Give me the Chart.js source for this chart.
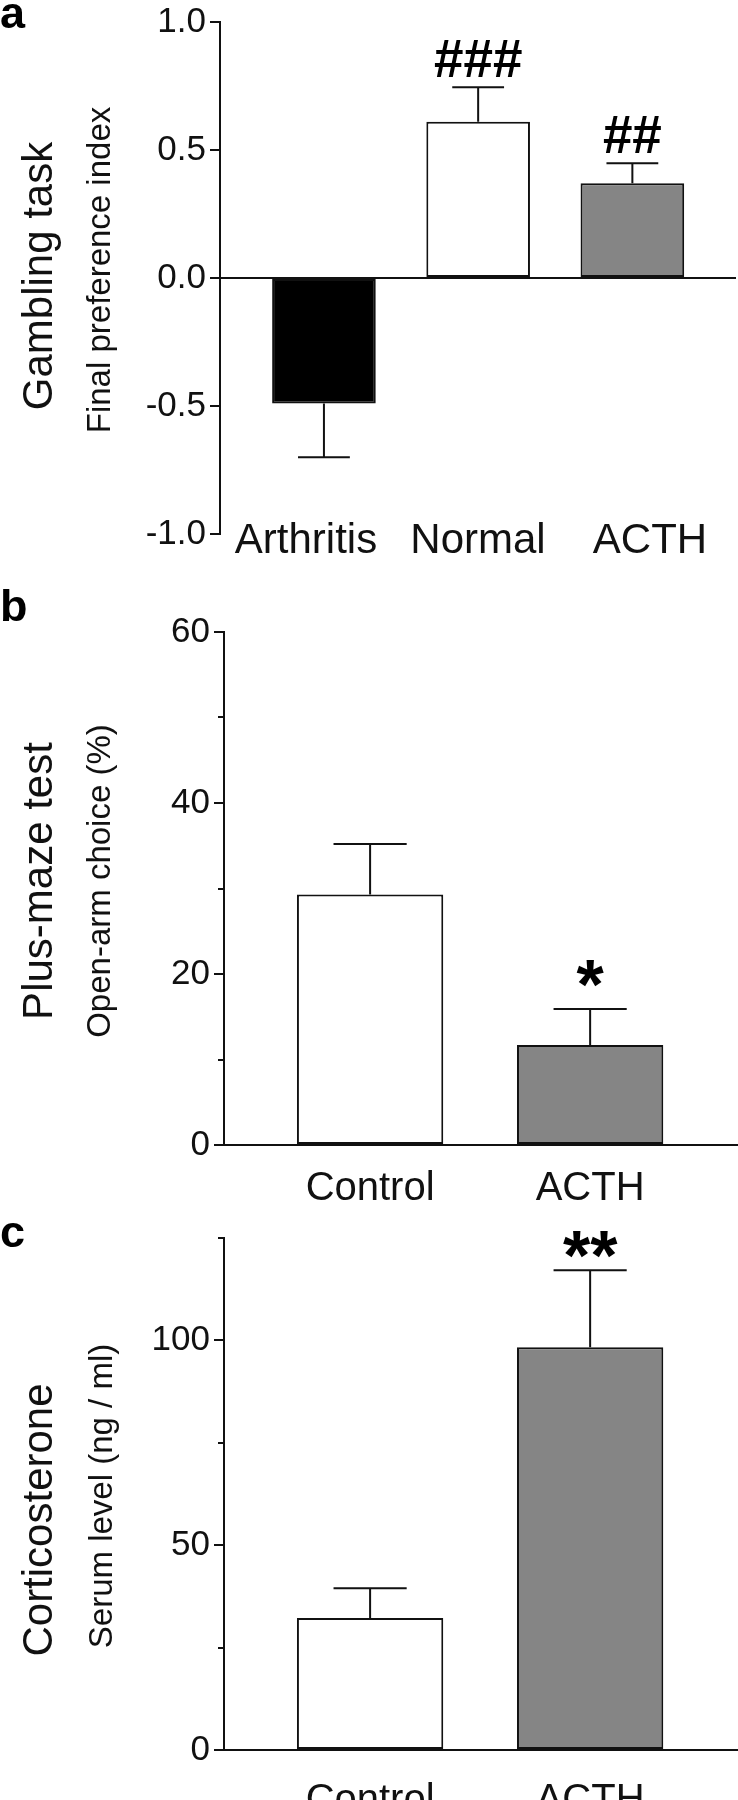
<!DOCTYPE html>
<html><head><meta charset="utf-8">
<script src="https://cdn.jsdelivr.net/npm/chart.js@4.4.1/dist/chart.umd.min.js"></script>
<style>
html,body{margin:0;padding:0;background:#fff;}
body{width:738px;height:1800px;position:relative;overflow:hidden;font-family:"Liberation Sans",Arial,Helvetica,sans-serif;}
canvas{position:absolute;left:0;}
.lbl{position:absolute;left:0;font-weight:bold;font-size:45px;line-height:1;color:#000;}
</style></head><body>
<canvas id="ca" width="738" height="600" style="top:0px"></canvas>
<canvas id="cb" width="738" height="605" style="top:600px"></canvas>
<canvas id="cc" width="738" height="595" style="top:1205px"></canvas>
<div class="lbl" style="top:-10px">a</div>
<div class="lbl" style="top:583px">b</div>
<div class="lbl" style="top:1209px">c</div>
<script>
// ---------- data ----------
const catA = ['Arthritis', 'Normal', 'ACTH'];
const meanA = [-0.49, 0.61, 0.37];
const semA = [0.21, 0.135, 0.078];
const marksA = ['', '###', '##'];
const ticksA = [-1.0, -0.5, 0.0, 0.5, 1.0];

const catB = ['Control', 'ACTH'];
const meanB = [29.3, 11.7];
const semB = [5.9, 4.2];
const marksB = ['', '*'];
const minorB = [10, 30, 50];

const catC = ['Control', 'ACTH'];
const meanC = [32.2, 98.3];
const semC = [7.3, 18.8];
const marksC = ['', '**'];
const minorC = [25, 75, 125];

const colorsA = ['#000000', '#ffffff', '#858585'];
const colorsBC = ['#ffffff', '#858585'];
const INK = '#111111';
const FONT = '"Liberation Sans", Arial, Helvetica, sans-serif';

Chart.defaults.font.family = FONT;
Chart.defaults.color = INK;

// ---------- plugins ----------
const errorBarPlugin = {
  id: 'errbars',
  afterDatasetsDraw(chart, args, opts) {
    const meta = chart.getDatasetMeta(0);
    const ys = chart.scales.y;
    const ctx = chart.ctx;
    const means = chart.data.datasets[0].data.map(p => p.y);
    ctx.save();
    ctx.strokeStyle = INK;
    ctx.lineWidth = 2;
    ctx.fillStyle = '#000';
    meta.data.forEach((el, i) => {
      const m = means[i];
      const e = opts.sem[i];
      const tipVal = m >= 0 ? m + e : m - e;
      const y0 = ys.getPixelForValue(m);
      const y1 = ys.getPixelForValue(tipVal);
      const half = el.width * opts.capFrac / 2;
      ctx.beginPath();
      ctx.moveTo(el.x, y0);
      ctx.lineTo(el.x, y1);
      ctx.moveTo(el.x - half, y1);
      ctx.lineTo(el.x + half, y1);
      ctx.stroke();
      const mk = opts.marks[i];
      if (mk) {
        ctx.font = opts.markFont;
        ctx.textAlign = 'center';
        ctx.textBaseline = 'alphabetic';
        const mt = ctx.measureText(mk);
        const by = y1 - opts.gap - mt.actualBoundingBoxDescent;
        ctx.fillText(mk, el.x, by);
      }
    });
    ctx.restore();
  }
};

const yTitlePlugin = {
  id: 'ytitles',
  afterDraw(chart, args, opts) {
    const ctx = chart.ctx;
    ctx.save();
    ctx.fillStyle = INK;
    ctx.textAlign = 'center';
    ctx.textBaseline = 'alphabetic';
    opts.lines.forEach(l => {
      ctx.save();
      ctx.font = l.font;
      ctx.translate(l.x, l.cy);
      ctx.rotate(-Math.PI / 2);
      ctx.fillText(l.text, 0, 0);
      ctx.restore();
    });
    ctx.restore();
  }
};

const minorTickPlugin = {
  id: 'minorTicks',
  afterDraw(chart, args, opts) {
    if (!opts.values) return;
    const ys = chart.scales.y;
    const ctx = chart.ctx;
    const x = chart.chartArea.left;
    ctx.save();
    ctx.strokeStyle = INK;
    ctx.lineWidth = 2;
    opts.values.forEach(v => {
      const y = Math.round(ys.getPixelForValue(v));
      ctx.beginPath();
      ctx.moveTo(x - opts.len, y);
      ctx.lineTo(x, y);
      ctx.stroke();
    });
    ctx.restore();
  }
};

function fixTicks(cats) {
  return function (scale) { scale.ticks = cats.map((_, i) => ({ value: i })); };
}

// ---------- panel a ----------
const chartA = new Chart(document.getElementById('ca'), {
  type: 'bar',
  data: {
    datasets: [{
      data: meanA.map((v, i) => ({ x: i, y: v })),
      backgroundColor: colorsA,
      borderColor: INK,
      borderWidth: 2,
      borderSkipped: false,
      categoryPercentage: 1,
      barPercentage: 0.672,
      xAxisID: 'x',
      yAxisID: 'y'
    }]
  },
  options: {
    responsive: false,
    animation: false,
    devicePixelRatio: 1,
    layout: { padding: { top: 22, right: 2, left: 0, bottom: 0 } },
    plugins: {
      legend: { display: false },
      tooltip: { enabled: false },
      errbars: { sem: semA, marks: marksA, capFrac: 0.5, gap: 10, markFont: 'bold 53px ' + FONT },
      ytitles: { lines: [
        { text: 'Gambling task', font: '42px ' + FONT, x: 52, cy: 276 },
        { text: 'Final preference index', font: '33px ' + FONT, x: 110, cy: 270 }
      ] },
      minorTicks: {}
    },
    scales: {
      x: {
        type: 'linear', min: -0.674, max: 2.672, display: false, offset: false,
        afterBuildTicks: fixTicks(catA)
      },
      xl: {
        type: 'category', labels: catA, position: 'bottom', offset: true,
        grid: { display: false }, border: { display: false },
        ticks: { font: { size: 42 }, mirror: true, padding: -33, maxRotation: 0, autoSkip: false, color: INK },
        afterFit(s) { s.height = 66; }
      },
      y: {
        min: -1, max: 1,
        afterBuildTicks(s) { s.ticks = ticksA.map(v => ({ value: v })); },
        ticks: { font: { size: 35, lineHeight: 1 }, padding: 4, color: INK, callback: v => Number(v).toFixed(1) },
        grid: {
          drawOnChartArea: true,
          color: c => (c.tick && Math.abs(c.tick.value) < 1e-9) ? INK : 'rgba(0,0,0,0)',
          lineWidth: 2, tickColor: INK, tickLength: 10, tickWidth: 2
        },
        border: { display: true, color: INK, width: 2 },
        afterFit(s) { s.width = 220; }
      }
    }
  },
  plugins: [errorBarPlugin, yTitlePlugin, minorTickPlugin]
});

function makeBC(id, cats, means, sems, marks, minors, yMax, yStep, gap, titles, padTop, labelPad, xH) {
  return new Chart(document.getElementById(id), {
    type: 'bar',
    data: {
      datasets: [{
        data: means.map((v, i) => ({ x: i, y: v })),
        backgroundColor: colorsBC,
        borderColor: INK,
        borderWidth: 2,
        borderSkipped: false,
        categoryPercentage: 1,
        barPercentage: 0.665,
        xAxisID: 'x',
        yAxisID: 'y'
      }]
    },
    options: {
      responsive: false,
      animation: false,
      devicePixelRatio: 1,
      layout: { padding: { top: padTop, right: 0, left: 0, bottom: 0 } },
      plugins: {
        legend: { display: false },
        tooltip: { enabled: false },
        errbars: { sem: sems, marks: marks, capFrac: 0.5, gap: gap, markFont: 'bold 70px ' + FONT },
        ytitles: { lines: titles },
        minorTicks: { values: minors, len: 6 }
      },
      scales: {
        x: {
          type: 'linear', min: -0.664, max: 1.672, position: 'bottom', offset: false,
          afterBuildTicks: fixTicks(cats),
          grid: { display: false },
          border: { display: true, color: INK, width: 2 },
          ticks: { font: { size: 40 }, padding: labelPad, maxRotation: 0, autoSkip: false, color: INK,
                   callback: v => cats[Math.round(v)] },
          afterFit(s) { s.height = xH; }
        },
        y: {
          min: 0, max: yMax,
          ticks: { stepSize: yStep, includeBounds: false, font: { size: 35 }, padding: 4, color: INK },
          grid: { drawOnChartArea: false, color: INK, tickColor: INK, tickLength: 10, tickWidth: 2, lineWidth: 2 },
          border: { display: true, color: INK, width: 2 },
          afterFit(s) { s.width = 224; }
        }
      }
    },
    plugins: [errorBarPlugin, yTitlePlugin, minorTickPlugin]
  });
}

const chartB = makeBC('cb', catB, meanB, semB, marksB, minorB, 60, 20, 22, [
  { text: 'Plus-maze test', font: '42px ' + FONT, x: 52, cy: 281 },
  { text: 'Open-arm choice (%)', font: '33px ' + FONT, x: 110, cy: 281 }
], 32, 12, 60);

const chartC = makeBC('cc', catC, meanC, semC, marksC, minorC, 125, 50, 12, [
  { text: 'Corticosterone', font: '42px ' + FONT, x: 52, cy: 315 },
  { text: 'Serum level (ng / ml)', font: '33px ' + FONT, x: 112, cy: 291 }
], 33, 19, 50);
</script>
</body></html>
